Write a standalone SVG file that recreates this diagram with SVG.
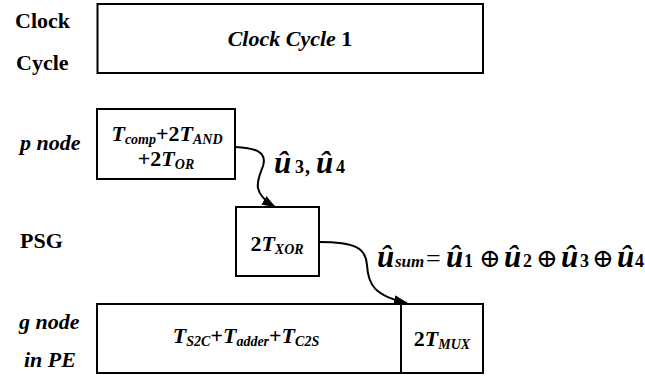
<svg xmlns="http://www.w3.org/2000/svg" width="645" height="379" viewBox="0 0 645 379" font-family="'Liberation Serif', 'DejaVu Serif', serif">
<defs>
<style>
.box{fill:#fff;stroke:#000;stroke-width:2}
.t{font-family:'Liberation Serif','DejaVu Serif',serif;font-weight:bold;fill:#000}
.i{font-style:italic}
.lbl{font-size:22px}
.sub{font-size:14px}
.u{font-size:31px;font-style:italic}
.op{font-size:26px;font-weight:normal}
.conn{fill:none;stroke:#000;stroke-width:2}
</style>
<marker id="ah" markerWidth="14" markerHeight="10" refX="13" refY="5" orient="auto" markerUnits="userSpaceOnUse">
<path d="M0,0 L14,5 L0,10 Z" fill="#000"/>
</marker>
</defs>
<rect width="645" height="379" fill="#fff"/>

<g id="row-labels">
<text class="t lbl" x="15" y="28">Clock</text>
<text class="t lbl" x="16" y="70">Cycle</text>
<text class="t lbl i" x="20" y="150">p node</text>
<text class="t lbl" x="20" y="248">PSG</text>
<text class="t lbl i" x="19" y="329">g node</text>
<text class="t lbl i" x="24" y="367">in PE</text>
</g>

<g id="clock-cycle">
<rect class="box" x="97.5" y="4" width="385.5" height="69"/>
<text class="t lbl" x="290" y="46" text-anchor="middle"><tspan class="i">Clock Cycle </tspan>1</text>
</g>

<g id="p-node">
<rect class="box" x="97" y="109" width="138" height="70"/>
<text class="t lbl" x="167" y="141" text-anchor="middle"><tspan class="i">T</tspan><tspan class="sub i" dy="3">comp</tspan><tspan dy="-3">+2</tspan><tspan class="i">T</tspan><tspan class="sub i" dy="3">AND</tspan></text>
<text class="t lbl" x="166" y="166" text-anchor="middle">+2<tspan class="i">T</tspan><tspan class="sub i" dy="3">OR</tspan></text>
</g>

<g id="psg">
<rect class="box" x="236" y="207" width="83" height="69"/>
<text class="t lbl" x="277" y="251" text-anchor="middle">2<tspan class="i">T</tspan><tspan class="sub i" dy="3">XOR</tspan></text>
</g>

<g id="g-node">
<rect class="box" x="97" y="304" width="304" height="69"/>
<text class="t lbl" x="246" y="343" text-anchor="middle"><tspan class="i">T</tspan><tspan class="sub i" dy="3">S2C</tspan><tspan dy="-3">+</tspan><tspan class="i">T</tspan><tspan class="sub i" dy="3">adder</tspan><tspan dy="-3">+</tspan><tspan class="i">T</tspan><tspan class="sub i" dy="3">C2S</tspan></text>
</g>

<g id="mux">
<rect class="box" x="401" y="304" width="82" height="69"/>
<text class="t lbl" x="442" y="346" text-anchor="middle">2<tspan class="i">T</tspan><tspan class="sub i" dy="3">MUX</tspan></text>
</g>

<g id="connectors">
<path class="conn" d="M235,147 C252,148 268,150 263,166 C258,180 250,192 275,207" marker-end="url(#ah)"/>
<path class="conn" d="M319,242 C355,242 366,248 367,265 C368,285 375,296 407,303" marker-end="url(#ah)"/>
</g>

<g id="label-u3u4">
<text class="t" y="173"><tspan class="u" x="274">û</tspan><tspan x="295" font-size="18">3</tspan><tspan x="305" font-size="20">,</tspan><tspan class="u" x="316">û</tspan><tspan x="336" font-size="18">4</tspan></text>
</g>

<g id="label-usum">
<text class="t" y="267"><tspan class="u" x="377">û</tspan><tspan class="i" x="395" font-size="17">sum</tspan><tspan class="op" x="426" font-size="28">=</tspan><tspan class="u" x="446">û</tspan><tspan x="464" font-size="18">1</tspan><tspan class="op" x="479">⊕</tspan><tspan class="u" x="504">û</tspan><tspan x="523" font-size="18">2</tspan><tspan class="op" x="536">⊕</tspan><tspan class="u" x="561">û</tspan><tspan x="580" font-size="18">3</tspan><tspan class="op" x="592">⊕</tspan><tspan class="u" x="617">û</tspan><tspan x="635" font-size="18">4</tspan></text>
</g>
</svg>
